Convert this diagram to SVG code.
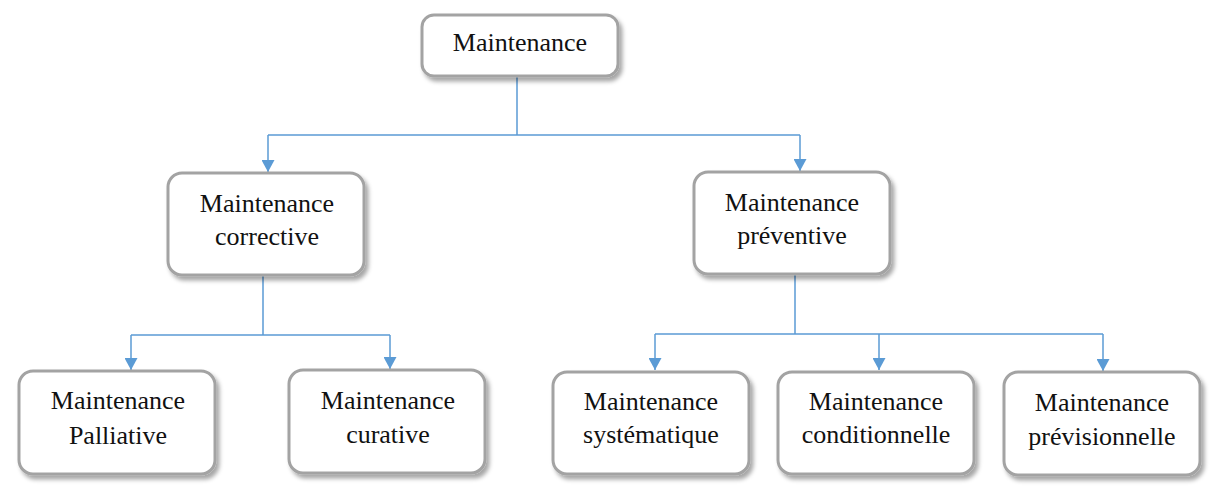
<svg xmlns="http://www.w3.org/2000/svg" width="1220" height="497" viewBox="0 0 1220 497">
<style>
.box{fill:#fff;stroke:#a3a3a3;stroke-width:3;filter:url(#sh)}
.t{font-family:"Liberation Serif","Times New Roman",serif;font-size:26px;fill:#111;text-anchor:middle}
.c{fill:none;stroke:#5b9bd5;stroke-width:1.5}
.a{marker-end:url(#arr)}
</style>
<defs>
<filter id="sh" x="-10%" y="-10%" width="125%" height="135%">
<feDropShadow dx="3" dy="4" stdDeviation="2" flood-color="#000" flood-opacity="0.35"/>
</filter>
<marker id="arr" markerUnits="userSpaceOnUse" markerWidth="13" markerHeight="13" refX="12" refY="6.5" orient="auto">
<path d="M0,0 L12,6.5 L0,13 z" fill="#5b9bd5"/>
</marker>
</defs>
<g id="connectors">
<path class="c" d="M517,76 V135 M268,135 H800"/>
<path class="c a" d="M268,135 V172"/>
<path class="c a" d="M800,135 V171"/>
<path class="c" d="M263,276 V335 M131,335 H390"/>
<path class="c a" d="M131,335 V370"/>
<path class="c a" d="M390,335 V369"/>
<path class="c" d="M795,274 V334 M655,334 H1103"/>
<path class="c a" d="M655,334 V370"/>
<path class="c a" d="M879,334 V370"/>
<path class="c a" d="M1103,334 V371"/>
</g>
<g id="n-maintenance">
<rect class="box" x="422" y="15" width="196" height="61" rx="12"/>
<text class="t" x="520" y="51">Maintenance</text>
</g>
<g id="n-corrective">
<rect class="box" x="168" y="173" width="196" height="102" rx="14"/>
<text class="t" x="267" y="212">Maintenance</text>
<text class="t" x="267" y="245">corrective</text>
</g>
<g id="n-preventive">
<rect class="box" x="694" y="172" width="196" height="102" rx="14"/>
<text class="t" x="792" y="211">Maintenance</text>
<text class="t" x="792" y="244">préventive</text>
</g>
<g id="n-palliative">
<rect class="box" x="19" y="371" width="196" height="103" rx="14"/>
<text class="t" x="118" y="409">Maintenance</text>
<text class="t" x="118" y="444">Palliative</text>
</g>
<g id="n-curative">
<rect class="box" x="289" y="370" width="196" height="103" rx="14"/>
<text class="t" x="388" y="409">Maintenance</text>
<text class="t" x="388" y="443">curative</text>
</g>
<g id="n-systematique">
<rect class="box" x="553" y="372" width="196" height="102" rx="14"/>
<text class="t" x="651" y="410">Maintenance</text>
<text class="t" x="651" y="443">systématique</text>
</g>
<g id="n-conditionnelle">
<rect class="box" x="778" y="372" width="196" height="102" rx="14"/>
<text class="t" x="876" y="410">Maintenance</text>
<text class="t" x="876" y="443">conditionnelle</text>
</g>
<g id="n-previsionnelle">
<rect class="box" x="1004" y="372" width="196" height="103" rx="14"/>
<text class="t" x="1102" y="411">Maintenance</text>
<text class="t" x="1102" y="445">prévisionnelle</text>
</g>
</svg>
